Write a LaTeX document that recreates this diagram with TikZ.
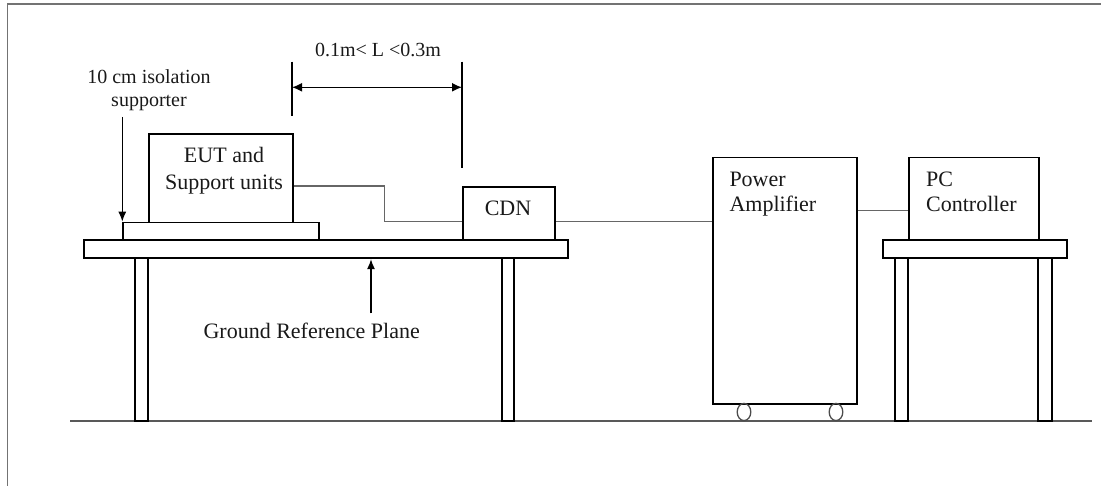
\documentclass[tikz,border=0pt]{standalone}
\usepackage{fontspec}
\setmainfont{Liberation Serif}
\usetikzlibrary{arrows.meta, positioning}

\begin{document}
\begin{tikzpicture}[
    x=1pt, y=-1pt,
    unit/.style={rectangle, draw=black, line width=1.8pt, fill=white, inner sep=0pt, anchor=north west},
    leg/.style={draw=black, line width=1.8pt},
    cable/.style={draw=black!60, line width=1.3pt},
    pointer/.style={-{Latex[length=10pt, width=8pt]}, draw=black, line width=1.4pt},
    dimline/.style={{Latex[length=10pt, width=9pt]}-{Latex[length=10pt, width=9pt]}, draw=black, line width=1.4pt},
    tick/.style={draw=black, line width=2pt},
    wheel/.style={draw=black!70, line width=1.3pt},
    boxtext/.style={font=\fontsize{22}{25}\selectfont, inner sep=0pt, anchor=base, text=black!90},
    note/.style={font=\fontsize{20}{23}\selectfont, inner sep=0pt, anchor=base, text=black!90}
]
    \useasboundingbox (0,0) rectangle (1101,486);

    % Page frame and floor
    \draw[black!55, line width=1.2pt] (7.5,486) -- (7.5,4) -- (1101,4);
    \draw[black!65, line width=1.8pt] (70,420.7) -- (1091.7,420.7);

    % Test table (ground reference plane)
    \draw[leg] (135,257.3) rectangle (148,420.7);
    \draw[leg] (501.7,257.3) rectangle (514,420.7);
    \node[unit, minimum width=484.3pt, minimum height=18pt] (grp) at (82.7,239.3) {};

    % Isolation supporter, EUT and CDN
    \node[unit, minimum width=196pt, minimum height=17.6pt] (slab) at (122.3,221.7) {};
    \node[unit, minimum width=143.7pt, minimum height=88.4pt] (eut) at (148.3,133.3) {};
    \node[boxtext, align=center, font=\fontsize{22}{27}\selectfont] (euttxt) at (224,189.7) {EUT and\\Support units};
    \node[unit, minimum width=92.3pt, minimum height=53.3pt] (cdn) at (462,186) {};
    \node[boxtext] (cdntxt) at (508,215.7) {CDN};

    % Power amplifier on wheels
    \node[unit, minimum width=144pt, minimum height=246.6pt] (amp) at (711.7,156.7) {};
    \node[boxtext, anchor=base west, align=left] (amptxt) at (729.3,211.7) {Power\\Amplifier};
    \draw[wheel] (744,412) ellipse [x radius=6.8, y radius=8.6];
    \draw[wheel] (836,412) ellipse [x radius=6.8, y radius=8.6];

    % Controller table
    \draw[leg] (895,257.3) rectangle (908.3,420.7);
    \draw[leg] (1038.3,257.3) rectangle (1051.7,420.7);
    \node[unit, minimum width=184pt, minimum height=18pt] (pctable) at (881.7,239.3) {};
    \node[unit, minimum width=130pt, minimum height=82.6pt] (pc) at (908.3,156.7) {};
    \node[boxtext, anchor=base west, align=left] (pctxt) at (926,211.7) {PC\\Controller};

    % Cables
    \coordinate (bend) at (384.3,221.7);
    \coordinate (link) at ([yshift=-11.3pt]pc.west);
    \draw[cable] (eut.east |- cdn.north) -| (bend) -- (bend -| cdn.west);
    \draw[cable] (bend -| cdn.east) -- (bend -| amp.west);
    \draw[cable] (link -| amp.east) -- (link);

    % Distance L between EUT and CDN
    \coordinate (dimL) at (292,87.3);
    \coordinate (dimR) at (462,87.3);
    \draw[tick] (292,61.7) -- (292,116);
    \draw[tick] (462,61.7) -- (462,168.3);
    \draw[dimline] (dimL) -- (dimR);
    \node[note] (dimtxt) at (378,57) {0.1m< L <0.3m};

    % Notes
    \node[note, align=center] (isotxt) at (149,106.7) {10 cm isolation\\supporter};
    \coordinate (isofoot) at (122.3,117);
    \draw[pointer] (isofoot) -- (slab.north west);
    \node[boxtext] (grptxt) at (311.7,338.3) {Ground Reference Plane};
    \coordinate (grpfoot) at (371,313.3);
    \draw[pointer] (grpfoot) -- (grpfoot |- grp.south);
\end{tikzpicture}
\end{document}
